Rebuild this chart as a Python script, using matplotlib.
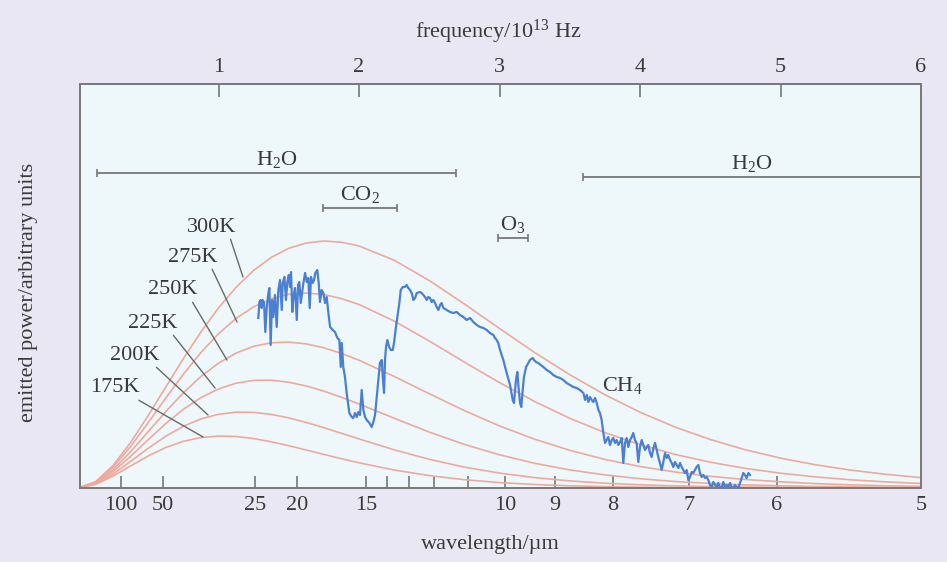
import matplotlib.pyplot as plt

plt.rcParams['font.family'] = ['Liberation Serif', 'DejaVu Serif']
plt.rcParams['mathtext.fontset'] = 'custom'
plt.rcParams['mathtext.rm'] = 'Liberation Serif'
plt.rcParams['mathtext.default'] = 'regular'

# frequency in units of 10^13 Hz, power in arbitrary units
freq = [0.0, 0.125, 0.25, 0.375, 0.5, 0.625, 0.75, 0.875, 1.0, 1.125, 1.25, 1.375, 1.5,
        1.625, 1.75, 1.875, 2.0, 2.25, 2.5, 2.75, 3.0, 3.25, 3.5, 3.75, 4.0, 4.25, 4.5,
        4.75, 5.0, 5.25, 5.5, 5.75, 6.0]

temps = ["300K", "275K", "250K", "225K", "200K", "175K"]
p300 = [0, 6.3, 22.6, 45.7, 72.6, 101.1, 129.4, 156.1, 180.1, 200.7, 217.6, 230.6, 239.7,
        245.0, 247.0, 245.8, 242.0, 227.8, 207.5, 184.0, 159.5, 135.5, 113.3, 93.3, 75.8,
        60.9, 48.5, 38.2, 29.9, 23.2, 17.9, 13.7, 10.4]
p275 = [0, 5.8, 20.8, 41.6, 65.4, 90.1, 113.8, 135.5, 154.3, 169.6, 181.2, 189.2, 193.7,
        195.0, 193.5, 189.4, 183.5, 167.0, 147.0, 125.9, 105.4, 86.5, 69.7, 55.4, 43.4,
        33.6, 25.8, 19.6, 14.8, 11.1, 8.2, 6.1, 4.5]
p250 = [0, 5.2, 18.4, 36.4, 56.4, 76.5, 95.2, 111.6, 124.9, 134.9, 141.7, 145.2, 145.9,
        144.1, 140.2, 134.6, 127.8, 111.6, 94.3, 77.4, 62.1, 48.8, 37.7, 28.6, 21.5,
        16.0, 11.7, 8.5, 6.2, 4.4, 3.1, 2.2, 1.6]
p225 = [0, 4.7, 16.4, 31.7, 48.4, 64.5, 78.7, 90.4, 99.1, 104.8, 107.6, 107.8, 105.8,
        102.0, 96.9, 90.7, 84.0, 69.8, 55.9, 43.6, 33.2, 24.7, 18.1, 13.1, 9.3,
        6.5, 4.6, 3.1, 2.2, 1.5, 1.0, 0.7, 0.4]
p200 = [0, 4.1, 14.0, 26.7, 39.8, 51.8, 61.8, 69.1, 73.7, 75.8, 75.6, 73.6, 70.1,
        65.5, 60.3, 54.7, 49.1, 38.2, 28.7, 20.9, 14.9, 10.4, 7.1, 4.8, 3.2,
        2.1, 1.4, 0.9, 0.6, 0.4, 0.2, 0.15, 0.1]
p175 = [0, 3.6, 12.0, 22.1, 32.1, 40.5, 46.7, 50.5, 51.9, 51.5, 49.4, 46.2, 42.3,
        38.0, 33.6, 29.3, 25.2, 18.0, 12.4, 8.3, 5.4, 3.5, 2.2, 1.4, 0.8,
        0.5, 0.3, 0.2, 0.1, 0.1, 0.05, 0.03, 0.02]
curves = [p300, p275, p250, p225, p200, p175]

# label position (freq, power) and leader end point for each temperature
temp_text_f = [0.954, 0.819, 0.676, 0.534, 0.406, 0.263]
temp_text_p = [261, 231, 198, 165, 133, 100]
temp_end_f = [1.174, 1.132, 1.060, 0.975, 0.925, 0.890]
temp_end_p = [211, 166, 128, 100, 73, 51]

# measured spectrum
spec_f = [1.283, 1.291, 1.300, 1.307, 1.314, 1.324, 1.333, 1.343, 1.355, 1.362, 1.371, 1.381,
          1.390, 1.402, 1.414, 1.426, 1.438, 1.450, 1.457, 1.469, 1.480, 1.490, 1.500, 1.509,
          1.516, 1.525, 1.533, 1.544, 1.557, 1.566, 1.575, 1.585, 1.597, 1.604, 1.616, 1.628,
          1.639, 1.649, 1.658, 1.670, 1.680, 1.689, 1.703, 1.713, 1.722, 1.734, 1.746, 1.758,
          1.770, 1.782, 1.794, 1.813, 1.829, 1.846, 1.860, 1.870, 1.877, 1.888, 1.900, 1.912,
          1.931, 1.948, 1.959, 1.972, 1.984, 1.995, 2.007, 2.019, 2.031, 2.043, 2.055, 2.074,
          2.090, 2.102, 2.114, 2.126, 2.138, 2.149, 2.162, 2.169, 2.178, 2.185, 2.192, 2.202,
          2.214, 2.226, 2.240, 2.249, 2.263, 2.273, 2.287, 2.297, 2.311, 2.327, 2.339, 2.351,
          2.363, 2.375, 2.387, 2.399, 2.411, 2.434, 2.446, 2.458, 2.470, 2.482, 2.493, 2.505,
          2.517, 2.529, 2.541, 2.553, 2.565, 2.577, 2.588, 2.600, 2.624, 2.648, 2.671, 2.695,
          2.719, 2.742, 2.766, 2.790, 2.814, 2.838, 2.861, 2.885, 2.909, 2.932, 2.956, 2.968,
          2.980, 2.991, 3.004, 3.027, 3.051, 3.075, 3.094, 3.103, 3.117, 3.127, 3.137, 3.146,
          3.155, 3.165, 3.174, 3.189, 3.205, 3.217, 3.236, 3.246, 3.260, 3.276, 3.293, 3.312,
          3.336, 3.359, 3.383, 3.407, 3.431, 3.454, 3.478, 3.502, 3.525, 3.549, 3.573, 3.597,
          3.609, 3.621, 3.632, 3.644, 3.656, 3.668, 3.680, 3.692, 3.704, 3.715, 3.727, 3.739,
          3.751, 3.763, 3.774, 3.786, 3.799, 3.810, 3.822, 3.834, 3.846, 3.858, 3.870, 3.881,
          3.893, 3.905, 3.917, 3.929, 3.941, 3.952, 3.964, 3.976, 3.988, 4.000, 4.012, 4.023,
          4.036, 4.048, 4.059, 4.071, 4.083, 4.095, 4.107, 4.119, 4.130, 4.142, 4.154, 4.166,
          4.178, 4.190, 4.201, 4.214, 4.226, 4.237, 4.249, 4.261, 4.273, 4.285, 4.297, 4.308,
          4.320, 4.332, 4.344, 4.356, 4.368, 4.379, 4.391, 4.403, 4.415, 4.427, 4.439, 4.451,
          4.463, 4.475, 4.486, 4.498, 4.510, 4.522, 4.534, 4.546, 4.557, 4.569, 4.581, 4.593,
          4.605, 4.617, 4.629, 4.641, 4.652, 4.664, 4.676, 4.688, 4.700, 4.712, 4.724, 4.735,
          4.747, 4.759, 4.771, 4.783]
spec_p = [170, 186, 188, 180, 188, 185, 156, 180, 195, 200, 143, 188,
          171, 193, 161, 198, 208, 178, 205, 211, 188, 206, 213, 201,
          216, 176, 191, 200, 168, 203, 206, 185, 198, 205, 215, 206,
          210, 180, 211, 205, 208, 215, 218, 205, 186, 198, 195, 185,
          191, 175, 161, 158, 156, 150, 148, 121, 145, 121, 111, 95,
          75, 71, 70, 75, 71, 76, 73, 98, 78, 71, 68, 65,
          61, 66, 73, 91, 108, 125, 128, 111, 95, 128, 141, 148,
          141, 138, 138, 145, 161, 171, 185, 198, 201, 201, 203, 200,
          198, 195, 188, 190, 195, 196, 195, 193, 191, 188, 191, 190,
          186, 188, 185, 181, 178, 183, 185, 180, 178, 176, 175, 176,
          173, 171, 168, 170, 166, 163, 161, 160, 158, 155, 153, 150,
          148, 145, 138, 128, 115, 103, 88, 85, 108, 116, 98, 85,
          81, 98, 111, 121, 125, 128, 130, 128, 126, 125, 123, 121,
          118, 116, 113, 111, 110, 108, 105, 103, 101, 100, 98, 95,
          88, 93, 86, 91, 88, 86, 90, 85, 78, 75, 68, 55,
          45, 48, 51, 43, 48, 50, 45, 48, 43, 46, 50, 25,
          45, 50, 41, 48, 51, 55, 48, 45, 26, 41, 48, 43,
          38, 41, 43, 35, 31, 40, 45, 38, 31, 25, 18, 26,
          35, 30, 33, 28, 25, 21, 26, 23, 20, 25, 21, 18,
          15, 18, 8, 11, 16, 15, 18, 21, 23, 15, 11, 13,
          10, 11, 8, 3, 1, 6, 3, 1, 5, 1, 0, 6,
          1, 3, 1, 5, 1, 0, 3, 1, 0, 5, 10, 15,
          13, 10, 15, 13]

# absorption bands (frequency range) and bracket heights
bands = ["H$_2$O", "CO$_2$", "O$_3$", "H$_2$O"]
band_lo = [0.135, 1.744, 2.989, 3.594]
band_hi = [2.690, 2.270, 3.203, 6.0]
band_level = [315, 280, 250, 311]

# wavelength axis (micrometres) and where its ticks sit on the frequency scale
wl_labels = ["100", "50", "25", "20", "15", "", "", "", "", "10", "9", "8", "7", "6", "5"]
wl_tick_f = [0.306, 0.605, 1.260, 1.559, 2.050, 2.199, 2.356, 2.534, 2.776,
             3.039, 3.395, 3.808, 4.349, 4.975, 6.0]
freq_ticks = [1, 2, 3, 4, 5, 6]

txt = '#3a3a3a'
grey = '#777777'
red = '#eea99d'
blue = '#4a7fd2'
fs = 16

fig = plt.figure(figsize=(9.47, 5.62), dpi=100, facecolor='#e9e7f3')
ax = fig.add_axes([80 / 947, 1 - 488 / 562, 841 / 947, 404 / 562])
ax.set_facecolor('#eef8fa')

for c in curves:
    ax.plot(freq, c, color=red, lw=1.2)
ax.plot(spec_f, spec_p, color=blue, lw=1.6)

for name, tf, tp, ef, ep in zip(temps, temp_text_f, temp_text_p, temp_end_f, temp_end_p):
    ax.annotate(name, xy=(ef, ep), xytext=(tf, tp), ha='center', va='center',
                fontsize=fs, color=txt,
                arrowprops=dict(arrowstyle='-', color='#6a6a6a', lw=1.0,
                                relpos=(0.85, 0.05), shrinkA=0, shrinkB=0))

for name, lo, hi, lev in zip(bands, band_lo, band_hi, band_level):
    mid = (lo + hi) / 2
    ax.errorbar(mid, lev, xerr=(hi - lo) / 2, fmt='none', ecolor=grey,
                elinewidth=1.3, capsize=3, capthick=1.2)
    ax.annotate(name, (mid, lev), xytext=(0, 2), textcoords='offset points',
                ha='center', va='bottom', fontsize=fs, color=txt)

ax.text(3.872, 103, "CH$_4$", ha='center', va='center', fontsize=fs, color=txt)

ax.set_xlim(0.014, 6.0)
ax.set_ylim(0, 404)
ax.set_yticks([])
ax.set_xticks(wl_tick_f)
ax.set_xticklabels(wl_labels)
ax.tick_params(axis='x', direction='in', length=9, width=1.2, color=grey,
               labelsize=fs, labelcolor=txt, pad=6)

ax2 = ax.twiny()
ax2.set_xlim(ax.get_xlim())
ax2.set_xticks(freq_ticks)
ax2.tick_params(axis='x', direction='in', length=9, width=1.2, color=grey,
                labelsize=fs, labelcolor=txt, pad=5)

for a in (ax, ax2):
    for s in a.spines.values():
        s.set_color('#7a7a7a')
        s.set_linewidth(1.3)

fig.text(498 / 947, 1 - 32 / 562, "frequency/10$^{13}$ Hz", ha='center', va='center',
         fontsize=fs, color=txt)
fig.text(490 / 947, 1 - 545 / 562, "wavelength/\u00b5m", ha='center', va='center',
         fontsize=fs, color=txt)
fig.text(28 / 947, 1 - 292 / 562, "emitted power/arbitrary units", ha='center',
         va='center', rotation=90, fontsize=fs, color=txt)

fig.savefig("out.png", dpi=100, facecolor=fig.get_facecolor())
